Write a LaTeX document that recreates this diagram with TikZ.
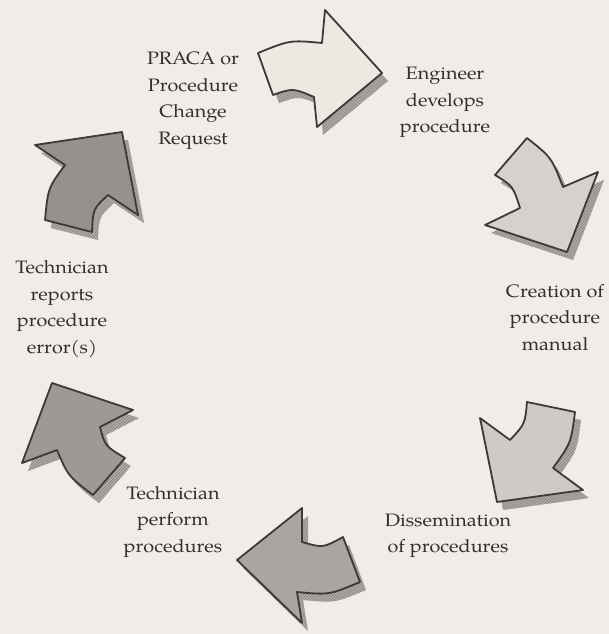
\documentclass[tikz,border=0pt]{standalone}
\usepackage{fontspec}
\setmainfont[FakeStretch=1.1]{TeX Gyre Pagella}
\usetikzlibrary{patterns}
\definecolor{paper}{RGB}{240,237,232}
\definecolor{edgec}{RGB}{62,57,52}
\definecolor{textc}{RGB}{52,47,42}
\definecolor{shadowc}{RGB}{176,171,166}
\definecolor{hatchc}{RGB}{135,130,125}
\definecolor{fillA}{RGB}{236,232,226}
\definecolor{fillB}{RGB}{214,209,204}
\definecolor{fillC}{RGB}{207,202,197}
\definecolor{fillD}{RGB}{170,165,160}
\definecolor{fillE}{RGB}{158,153,148}
\definecolor{fillF}{RGB}{150,145,140}
\begin{document}
\begin{tikzpicture}[x=1pt,y=-1pt,
  shad/.style={fill=shadowc, postaction={pattern=north east lines, pattern color=hatchc}, shift={(6,8)}},
  arr/.style={draw=edgec, line width=1.8pt, line join=round},
  lab/.style={align=center, inner sep=0pt, text=textc,
    font=\fontsize{18}{26.5}\selectfont,
    execute at begin node=\strut, execute at end node=\strut}]
\fill[paper] (0,0) rectangle (609,634);
\useasboundingbox (0,0) rectangle (609,634);

\def\arrA{(258,53) .. controls (290,40) .. (322,43) -- (325,10) -- (382,73) -- (317,127) -- (314,97) .. controls (293,88) .. (273,95) -- cycle}
\def\arrB{(527,138) .. controls (551.5,157.5) .. (563,187) -- (598,172) -- (567,252) -- (485,225) -- (520,208) .. controls (513,186) .. (495,175) -- cycle}
\def\arrC{(527,402) -- (575,412) .. controls (571,443) .. (553,468) -- (583,490) -- (497,502) -- (480,418) -- (510,440) .. controls (525,424) .. (527,402) -- cycle}
\def\arrD{(302,508) -- (237,560) -- (302,623) -- (297,592) .. controls (329,595) .. (360,582) -- (343,537) .. controls (323,548) .. (302,542) -- cycle}
\def\arrE{(52,383) -- (133,410) -- (100,427) .. controls (105,446) .. (125,458) -- (93,495) .. controls (68,476) .. (57,450) -- (22,463) -- cycle}
\def\arrF{(35,145) -- (122,132) -- (138,215) -- (108,195) .. controls (93,209) .. (92,232) -- (45,220) .. controls (48,188) .. (65,165) -- cycle}

\fill[shad] \arrA;
\fill[shad] \arrB;
\fill[shad] \arrC;
\fill[shad] \arrD;
\fill[shad] \arrE;
\fill[shad] \arrF;

\filldraw[arr, fill=fillA] \arrA;
\filldraw[arr, fill=fillB] \arrB;
\filldraw[arr, fill=fillC] \arrC;
\filldraw[arr, fill=fillD] \arrD;
\filldraw[arr, fill=fillE] \arrE;
\filldraw[arr, fill=fillF] \arrF;

\node[lab] (praca) at (193,102) {PRACA or\\Procedure\\Change\\Request};
\node[lab] (engineer) at (445,104) {Engineer\\develops\\procedure};
\node[lab] (creation) at (555,321) {Creation of\\procedure\\manual};
\node[lab] (dissem) at (448,537) {Dissemination\\of procedures};
\node[lab] (perform) at (173,523) {Technician\\perform\\procedures};
\node[lab] (reports) at (62,311) {Technician\\reports\\procedure\\error(s)};
\end{tikzpicture}
\end{document}
